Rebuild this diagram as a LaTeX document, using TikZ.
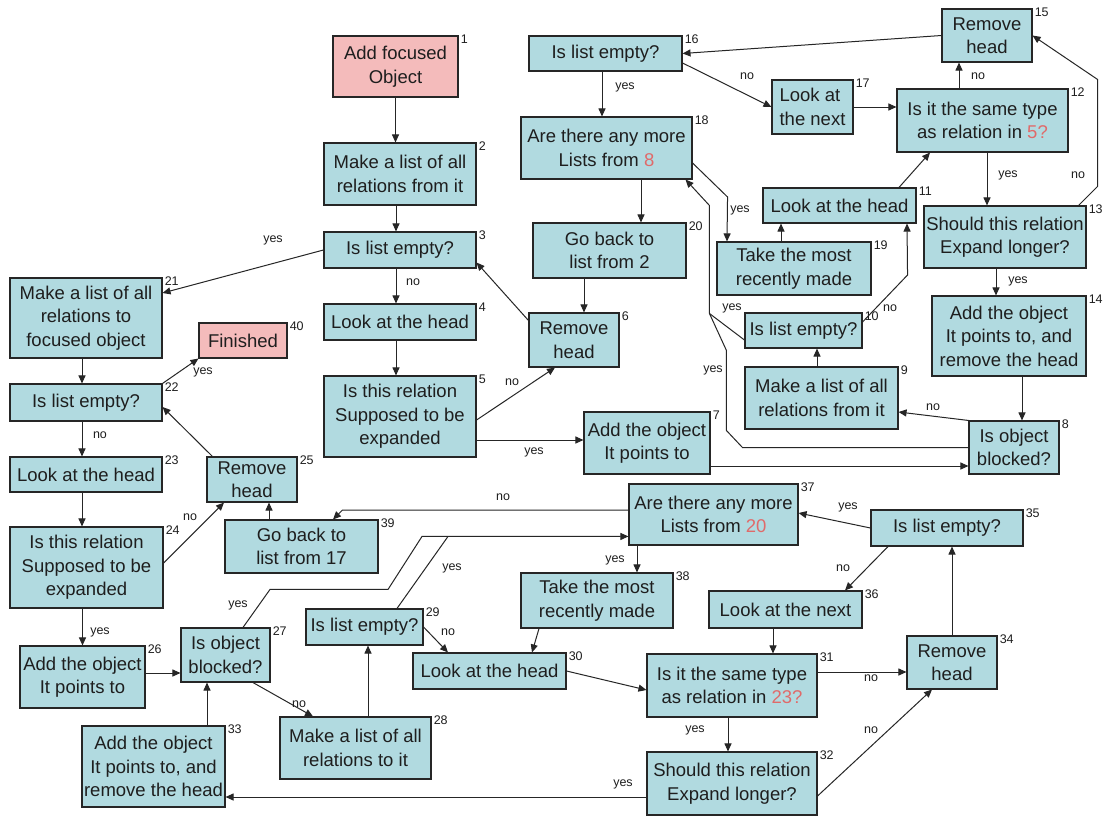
\documentclass[tikz,border=0pt]{standalone}
\usepackage{fontspec}
\setmainfont{Liberation Sans}
\usetikzlibrary{arrows.meta,calc}

\definecolor{boxfill}{HTML}{B1DAE0}
\definecolor{startfill}{HTML}{F4BBBB}
\definecolor{edge}{HTML}{262626}
\definecolor{ink}{HTML}{1E1E1E}
\definecolor{refnum}{HTML}{E06A6A}

\tikzset{
  box/.style={draw=edge, line width=1.1pt, fill=boxfill, align=center,
    inner sep=1pt, font=\fontsize{18.5}{23.5}\selectfont, text=ink},
  pinkbox/.style={fill=startfill},
  num/.style={anchor=west, inner sep=0pt, font=\fontsize{12.5}{14}\selectfont, text=ink},
  lab/.style={inner sep=0pt, font=\fontsize{12.5}{14}\selectfont, text=ink},
  arr/.style={draw=edge, line width=1pt, -{Triangle[length=8pt,width=7pt]}},
  wire/.style={draw=edge, line width=1pt},
}

% \flowbox[style]{id}{left}{top}{right}{bottom}{text}
\newcommand\flowbox[7][]{%
  \pgfmathsetmacro\fbw{#5-#3}%
  \pgfmathsetmacro\fbh{#6-#4}%
  \node[box, minimum width=\fbw pt, minimum height=\fbh pt, #1] (b#2)
    at ({(#3+#5)/2},{(#4+#6)/2}) {#7};
  \node[num] (n#2) at ([xshift=2pt,yshift=-4pt]b#2.north east) {#2};
}

\begin{document}
\begin{tikzpicture}[x=1pt,y=-1pt]
\useasboundingbox (0,0) rectangle (1106,816);
\fill[white] (0,0) rectangle (1106,816);

% ---- steps ----
\flowbox[pinkbox]{1}{333}{36}{458}{97}{Add focused\\Object}
\flowbox{2}{324}{143}{476}{205}{Make a list of all\\relations from it}
\flowbox{3}{324}{232}{476}{268}{Is list empty?}
\flowbox{4}{324}{304}{476}{340}{Look at the head}
\flowbox{5}{324}{376}{476}{457}{Is this relation\\Supposed to be\\expanded}
\flowbox{6}{529}{313}{619}{367}{Remove\\head}
\flowbox{7}{584}{412}{710}{474}{Add the object\\It points to}
\flowbox{8}{969}{421}{1059}{474}{Is object\\blocked?}
\flowbox{9}{745}{367}{898}{429}{Make a list of all\\relations from it}
\flowbox{10}{745}{313}{862}{348}{Is list empty?}
\flowbox{11}{763}{188}{916}{223}{Look at the head}
\flowbox{12}{897}{89}{1068}{152}{Is it the same type\\as relation in {\color{refnum}5?}}
\flowbox{13}{924}{206}{1086}{268}{Should this relation\\Expand longer?}
\flowbox{14}{932}{296}{1086}{376}{Add the object\\It points to, and\\remove the head}
\flowbox{15}{942}{9}{1032}{62}{Remove\\head}
\flowbox{16}{529}{36}{682}{71}{Is list empty?}
\flowbox[align=left]{17}{772}{80}{853}{134}{Look at\\the next}
\flowbox{18}{521}{117}{692}{179}{Are there any more\\Lists from {\color{refnum}8}}
\flowbox{19}{717}{242}{871}{295}{Take the most\\recently made}
\flowbox{20}{533}{223}{686}{278}{Go back to\\list from 2}
\flowbox{21}{10}{278}{162}{358}{Make a list of all\\relations to\\focused object}
\flowbox{22}{10}{384}{162}{421}{Is list empty?}
\flowbox{23}{10}{457}{162}{492}{Look at the head}
\flowbox{24}{10}{527}{163}{608}{Is this relation\\Supposed to be\\expanded}
\flowbox{25}{207}{457}{297}{502}{Remove\\head}
\flowbox{26}{20}{646}{145}{708}{Add the object\\It points to}
\flowbox{27}{181}{628}{270}{682}{Is object\\blocked?}
\flowbox{28}{280}{717}{431}{779}{Make a list of all\\relations to it}
\flowbox{29}{306}{609}{423}{645}{Is list empty?}
\flowbox{30}{413}{653}{566}{689}{Look at the head}
\flowbox{31}{647}{654}{817}{717}{Is it the same type\\as relation in {\color{refnum}23?}}
\flowbox{32}{647}{752}{817}{815}{Should this relation\\Expand longer?}
\flowbox{33}{82}{726}{225}{807}{Add the object\\It points to, and\\remove the head}
\flowbox{34}{907}{636}{997}{689}{Remove\\head}
\flowbox{35}{871}{510}{1023}{546}{Is list empty?}
\flowbox{36}{709}{591}{862}{628}{Look at the next}
\flowbox{37}{629}{484}{798}{545}{Are there any more\\Lists from {\color{refnum}20}}
\flowbox{38}{521}{573}{673}{628}{Take the most\\recently made}
\flowbox{39}{225}{520}{378}{573}{Go back to\\list from 17}
\flowbox[pinkbox]{40}{199}{323}{287}{358}{Finished}

% ---- first pass: relations from the focused object ----
\draw[arr] (b1.south) -- (b1.south |- b2.north);
\draw[arr] ([xshift=-4pt]b2.south) -- ([xshift=-4pt]b3.north);
\draw[arr] ([xshift=-4pt]b3.south) -- ([xshift=-4pt]b4.north);
\draw[arr] ([xshift=-4pt]b4.south) -- ([xshift=-4pt]b5.north);
\draw[arr] (b3.west) -- ([yshift=25pt]b21.east);
\draw[arr] ([yshift=-3.5pt]b5.east) -- ([xshift=-19pt]b6.south);
\draw[arr] ([yshift=-8pt]b6.north west) -- ([yshift=6pt]b3.south east);
\draw[arr] ([yshift=-23.5pt]b5.east) -- ([yshift=-23.5pt]b5.east -| b7.west);
\draw[arr] ([yshift=-23pt]b7.east) -- ([yshift=-23pt]b7.east -| b8.west);
\draw[arr] ([xshift=-25.5pt]b20.south) -- ([xshift=-25.5pt]b20.south |- b6.north);
\draw[arr] ([xshift=34.5pt]b18.south) -- ([xshift=34.5pt]b18.south |- b20.north);
\draw[arr] ([xshift=-3.5pt]b16.south) -- ([xshift=-3.5pt]b16.south |- b18.north);
\draw[arr] (b15.west) -- (b16.east);
\draw[arr] ([yshift=-9.5pt]b16.east) -- (b17.west);
\draw[arr] (b17.east) -- (b17.east -| b12.west);
\draw[arr] ([xshift=-23.5pt]b12.north) -- ([xshift=-23.5pt]b12.north |- b15.south);
\draw[arr] ([xshift=4.5pt]b12.south) -- ([xshift=4.5pt]b12.south |- b13.north);
\draw[arr] ([xshift=-8pt]b13.north east) -- ++(19,-19) -- ++(0,-107) -- (b15.east);
\draw[arr] ([xshift=59.5pt]b11.north) -- ([xshift=-52.5pt]b12.south);
\draw[arr] ([xshift=-13pt]b19.north) -- ([xshift=-13pt]b19.north |- b11.south);
\draw[arr] ([yshift=8.5pt]b10.east) -- ++(45,-47) -- ([xshift=67.5pt]b11.south);
\draw[arr] ([xshift=-4.5pt]b9.north) -- ([xshift=-4.5pt]b9.north |- b10.south);
\draw[arr] (b8.north west) -- ([yshift=-14pt]b9.east);
\draw[arr] ([xshift=13pt]b14.south) -- ([xshift=13pt]b14.south |- b8.north);
\draw[arr] ([xshift=-9pt]b13.south) -- ([xshift=-9pt]b13.south |- b14.north);
\draw[arr] ([yshift=-15pt]b18.east) -- ++(35,34) -- ([xshift=-67pt]b19.north);
\draw[arr] (b8.west) -- ++(-226,0) -- ++(-16,-17) -- ++(0,-80) -- ++(-17,-37)
  coordinate (m18) -- ++(0,-108) -- ([xshift=-7pt]b18.south east);
\draw[wire] ([yshift=-9.5pt]b10.west) -- (m18);

% ---- second pass: relations to the focused object ----
\draw[arr] ([xshift=-4pt]b21.south) -- ([xshift=-4pt]b21.south |- b22.north);
\draw[arr] ([xshift=-4pt]b22.south) -- ([xshift=-4pt]b22.south |- b23.north);
\draw[arr] ([xshift=-4pt]b23.south) -- ([xshift=-4pt]b23.south |- b24.north);
\draw[arr] ([xshift=-4pt]b24.south) -- ([xshift=-4pt]b24.south |- b26.north);
\draw[arr] (b22.north east) -- (b40.south west);
\draw[arr] ([yshift=4.5pt]b24.east) -- ([xshift=-28pt]b25.south);
\draw[arr] ([xshift=6pt]b25.north west) -- ([yshift=-4.5pt]b22.east);
\draw[arr] ([xshift=-32.5pt]b39.north) -- ([xshift=-32.5pt]b39.north |- b25.south);
\draw[arr] ([yshift=4.5pt]b37.west) -- ++(-286,0) -- ([xshift=31.5pt]b39.north);
\draw[arr] ([yshift=4pt]b26.east) -- ([yshift=4pt]b26.east -| b27.west);
\draw[arr] ([xshift=27.5pt]b27.south) -- ([xshift=-42.5pt]b28.north);
\draw[arr] ([xshift=12.5pt]b28.north) -- ([xshift=12.5pt]b28.north |- b29.south);
\draw[arr] (b29.east) -- ([xshift=-41.5pt]b30.north);
\draw[arr] ([xshift=17.5pt]b27.north) -- ++(27,-38) -- ++(118,0) -- ++(34,-53)
  coordinate (m37) -- (m37 -| b37.west);
\draw[wire] ([xshift=32.5pt]b29.north) -- ++(51,-72);
\draw[arr] ([xshift=-76.5pt]b37.south) -- ([xshift=-76.5pt]b37.south |- b38.north);
\draw[arr] ([xshift=-58pt]b38.south) -- ([xshift=42.5pt]b30.north);
\draw[arr] (b30.east) -- ([yshift=-4.5pt]b31.west);
\draw[arr] ([xshift=-12.5pt]b36.south) -- ([xshift=-12.5pt]b36.south |- b31.north);
\draw[arr] ([yshift=13.5pt]b31.east) -- ([yshift=13.5pt]b31.east -| b34.west);
\draw[arr] ([xshift=-4pt]b31.south) -- ([xshift=-4pt]b31.south |- b32.north);
\draw[arr] ([yshift=-12.5pt]b32.east) -- ([xshift=-20pt]b34.south);
\draw[arr] ([yshift=-13.5pt]b32.west) -- ([yshift=-13.5pt]b32.west -| b33.east);
\draw[arr] ([xshift=53.5pt]b33.north) -- ([xshift=53.5pt]b33.north |- b27.south);
\draw[arr] (b34.north) -- (b34.north |- b35.south);
\draw[arr] (b35.west) -- ([yshift=1.5pt]b37.east);
\draw[arr] ([xshift=-59pt]b35.south) -- ([xshift=59.5pt]b36.north);

% ---- branch labels ----
\node[lab] (t3a)  at (413,282) {no};
\node[lab] (t3b)  at (273,240) {yes};
\node[lab] (t5a)  at (512,382) {no};
\node[lab] (t5b)  at (534,452) {yes};
\node[lab] (t16a) at (747,76)  {no};
\node[lab] (t16b) at (625,87)  {yes};
\node[lab] (t12a) at (978,76)  {no};
\node[lab] (t12b) at (1008,175) {yes};
\node[lab] (t13a) at (1078,175) {no};
\node[lab] (t13b) at (1018,281) {yes};
\node[lab] (t18)  at (740,210) {yes};
\node[lab] (t10a) at (732,308) {yes};
\node[lab] (t10b) at (890,308) {no};
\node[lab] (t8a)  at (713,370) {yes};
\node[lab] (t8b)  at (933,407) {no};
\node[lab] (t22a) at (203,372) {yes};
\node[lab] (t22b) at (100,435) {no};
\node[lab] (t24a) at (190,517) {no};
\node[lab] (t24b) at (100,632) {yes};
\node[lab] (t37a) at (503,497) {no};
\node[lab] (t37b) at (615,560) {yes};
\node[lab] (t27a) at (238,605) {yes};
\node[lab] (t27b) at (299,704) {no};
\node[lab] (t29a) at (452,568) {yes};
\node[lab] (t29b) at (448,632) {no};
\node[lab] (t31a) at (695,730) {yes};
\node[lab] (t31b) at (871,678) {no};
\node[lab] (t32a) at (871,730) {no};
\node[lab] (t32b) at (623,784) {yes};
\node[lab] (t35a) at (848,507) {yes};
\node[lab] (t35b) at (843,568) {no};
\end{tikzpicture}
\end{document}
